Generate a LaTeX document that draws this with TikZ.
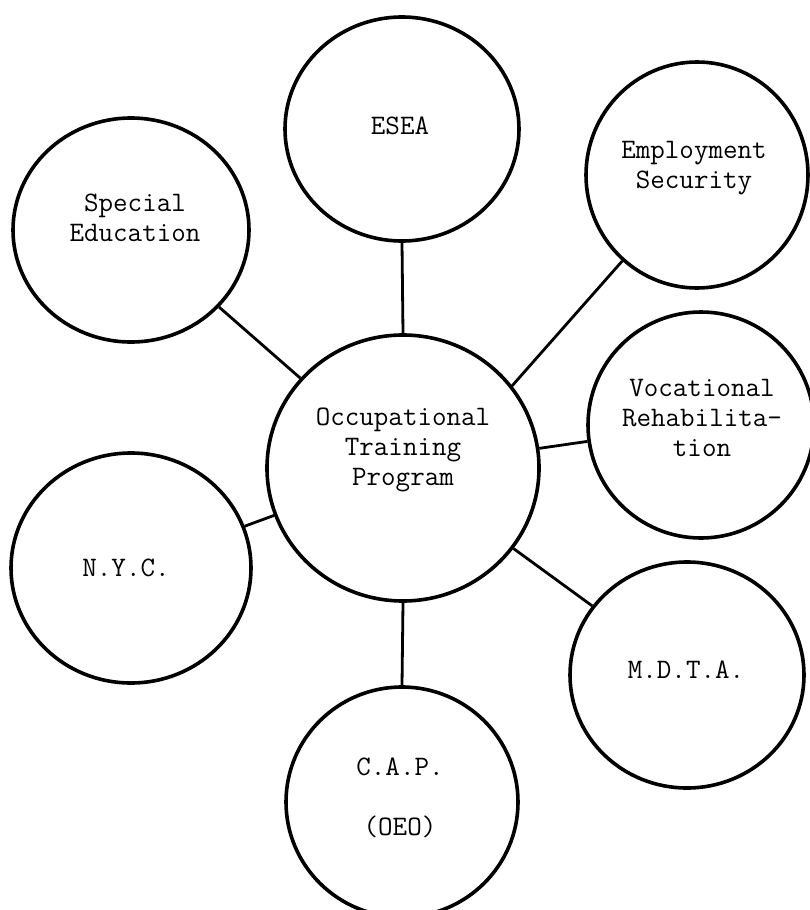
\documentclass[tikz,border=0pt]{standalone}
\usepackage{fontspec}
\usetikzlibrary{shapes.geometric}
\begin{document}
\begin{tikzpicture}[x=0.5pt,y=-0.5pt,
  agency/.style={draw=black, line width=1.8pt, ellipse, inner sep=0pt},
  lbl/.style={align=center, font=\ttfamily\fontsize{14.1pt}{15pt}\selectfont, inner sep=0pt},
  link/.style={draw=black, line width=1.4pt}]
\useasboundingbox (0,0) rectangle (809,910);
\node[agency, minimum width=136pt, minimum height=133pt] (c) at (403,468) {};
\node[agency, minimum width=117pt, minimum height=112pt] (esea) at (402,129) {};
\node[agency, minimum width=111pt, minimum height=113pt] (emp) at (697,175) {};
\node[agency, minimum width=118pt, minimum height=112pt] (sped) at (131,230) {};
\node[agency, minimum width=113pt, minimum height=113pt] (voc) at (701,425) {};
\node[agency, minimum width=120pt, minimum height=115pt] (nyc) at (131,568) {};
\node[agency, minimum width=117pt, minimum height=113pt] (mdta) at (687,675) {};
\node[agency, minimum width=116pt, minimum height=115pt] (cap) at (402,802) {};
\node[lbl] (tc) at (403,450) {Occupational\\Training\\Program};
\node[lbl] (tesea) at (400,126) {ESEA};
\node[lbl] (temp) at (694,168) {Employment\\Security};
\node[lbl] (tsped) at (135,218) {Special\\Education};
\node[lbl] (tvoc) at (702,418) {Vocational\\Rehabilita-\\tion};
\node[lbl] (tnyc) at (126,568) {N.Y.C.};
\node[lbl] (tmdta) at (686,670) {M.D.T.A.};
\node[lbl] (tcap) at (400,767) {C.A.P.};
\node[lbl] (toeo) at (400,827) {(OEO)};
\draw[link] (c.north) -- (esea.south);
\draw[link] (c) -- (sped);
\draw[link] (c.37) -- (emp.229);
\draw[link] (c) -- (voc);
\draw[link] (c) -- (nyc);
\draw[link] (c) -- (mdta);
\draw[link] (c.south) -- (cap.north);
\end{tikzpicture}
\end{document}
